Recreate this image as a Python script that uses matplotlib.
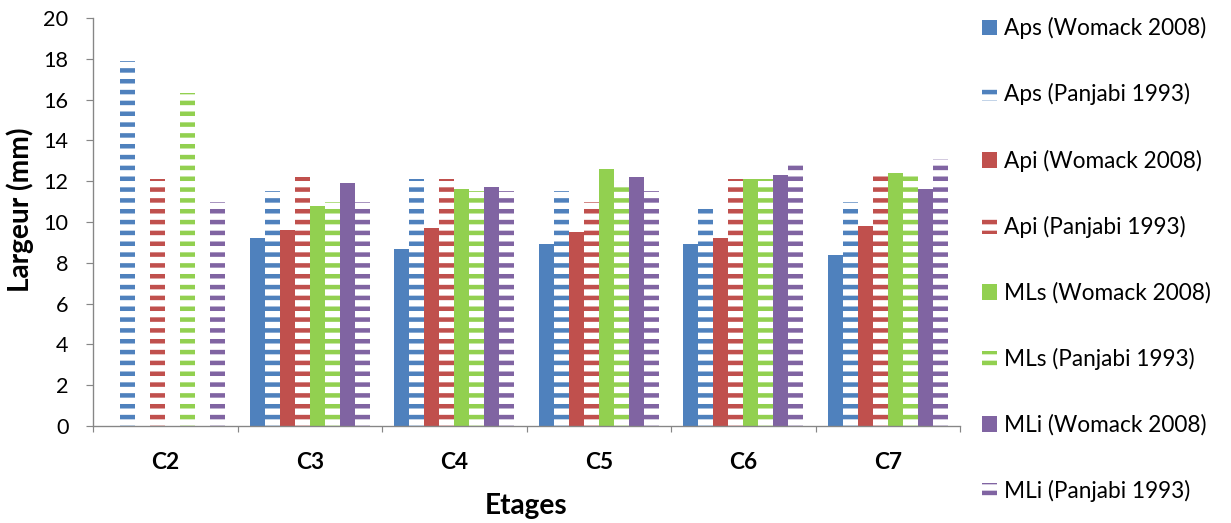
import numpy as np
import matplotlib.pyplot as plt
from matplotlib.patches import Patch

# data (Largeur en mm)
etages = ['C2', 'C3', 'C4', 'C5', 'C6', 'C7']
aps_womack = [np.nan, 9.2, 8.7, 8.9, 8.9, 8.4]
aps_panjabi = [17.9, 11.5, 12.1, 11.5, 10.8, 11.0]
api_womack = [np.nan, 9.6, 9.7, 9.5, 9.2, 9.8]
api_panjabi = [12.1, 12.2, 12.1, 11.0, 12.1, 12.4]
mls_womack = [np.nan, 10.8, 11.6, 12.6, 12.1, 12.4]
mls_panjabi = [16.3, 11.0, 11.5, 12.0, 12.1, 12.5]
mli_womack = [np.nan, 11.9, 11.7, 12.2, 12.3, 11.6]
mli_panjabi = [11.0, 11.0, 11.5, 11.5, 13.0, 13.1]

series = [
    ('Aps (Womack 2008)', aps_womack, '#4F81BD', False),
    ('Aps (Panjabi 1993)', aps_panjabi, '#4F81BD', True),
    ('Api (Womack 2008)', api_womack, '#C0504D', False),
    ('Api (Panjabi 1993)', api_panjabi, '#C0504D', True),
    ('MLs (Womack 2008)', mls_womack, '#92D050', False),
    ('MLs (Panjabi 1993)', mls_panjabi, '#92D050', True),
    ('MLi (Womack 2008)', mli_womack, '#8064A2', False),
    ('MLi (Panjabi 1993)', mli_panjabi, '#8064A2', True),
]

DPI = 65  # hatch cell = 1 inch, so this sets the stripe spacing
plt.rcParams['font.family'] = ['Lato', 'DejaVu Sans']
plt.rcParams['hatch.linewidth'] = 5.0

fig = plt.figure(figsize=(1231 / DPI, 523 / DPI), dpi=DPI)
ax = fig.add_axes([93 / 1231, 97 / 523, (960 - 93) / 1231, (426 - 18) / 523])

x = np.arange(len(etages))
w = 0.104
handles = []
for j, (name, vals, col, striped) in enumerate(series):
    pos = x + (j - 3.5) * w
    if striped:
        ax.bar(pos, vals, w, facecolor='white', edgecolor=col, hatch='-', linewidth=0)
        handles.append(Patch(facecolor='white', edgecolor=col, hatch='-', linewidth=0, label=name))
    else:
        ax.bar(pos, vals, w, color=col, linewidth=0)
        handles.append(Patch(facecolor=col, linewidth=0, label=name))

ax.set_xlim(-0.5, 5.5)
ax.set_ylim(0, 20)
ax.set_yticks(np.arange(0, 21, 2))
ax.set_xticks(x)
ax.set_xticklabels(etages, fontsize=25, fontweight='bold')
ax.set_xticks(np.arange(-0.5, 6, 1), minor=True)
ax.tick_params(axis='x', which='major', length=0, pad=29)
ax.tick_params(axis='x', which='minor', length=7, width=1.3, color='#868686')
ax.tick_params(axis='y', length=8, width=1.3, color='#868686', labelsize=24, pad=19)

for s in ['top', 'right']:
    ax.spines[s].set_visible(False)
for s in ['left', 'bottom']:
    ax.spines[s].set_color('#868686')
    ax.spines[s].set_linewidth(1.5)

ax.set_xlabel('Etages', fontsize=31, fontweight='bold')
ax.xaxis.set_label_coords(0.5, -0.163)
ax.set_ylabel('Largeur (mm)', fontsize=31, fontweight='bold')
ax.yaxis.set_label_coords(-0.068, 0.53)

fig.legend(handles=handles, loc='upper left', bbox_to_anchor=(973 / 1231, 1 - 8 / 523),
           frameon=False, fontsize=25, handlelength=0.67, handleheight=0.67,
           handletextpad=0.3, labelspacing=1.96, borderaxespad=0)

fig.savefig('out.png', dpi=DPI)
